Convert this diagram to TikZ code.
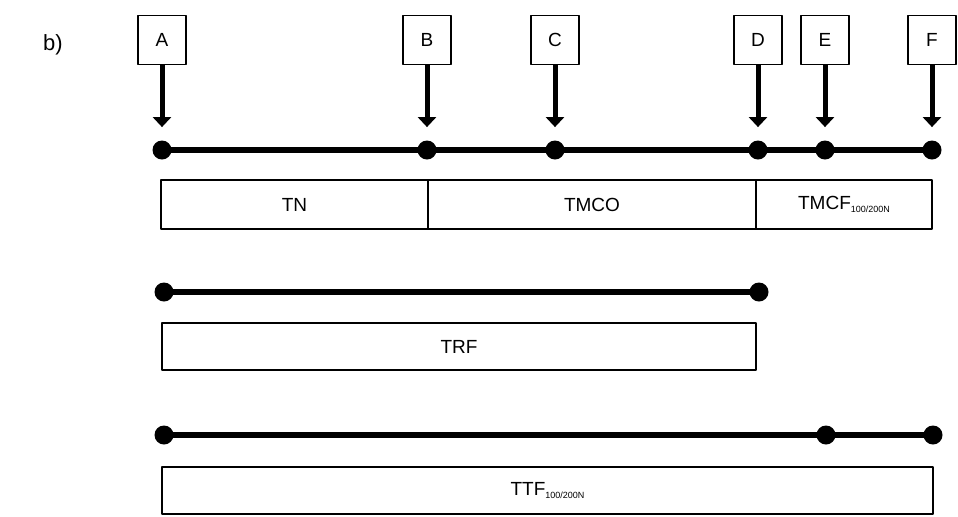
\documentclass[tikz,border=0pt]{standalone}
\usepackage{fontspec}
\setmainfont{Liberation Sans}
\usetikzlibrary{arrows.meta,positioning}
\newcommand{\lowtag}[1]{\raisebox{-1.2pt}{\fontsize{4.5}{5}\selectfont #1}}
\tikzset{
  markbox/.style={draw, line width=0.9pt, minimum width=24pt, minimum height=24.5pt, inner sep=0pt},
  dot/.style={circle, fill, inner sep=0pt, minimum size=9.5pt},
  track/.style={line width=2.6pt},
  push/.style={line width=2.5pt, -{Triangle[width=9pt,length=5pt]}, shorten >=6.5pt},
  segbox/.style={draw, line width=1.1pt, minimum height=24.5pt, inner sep=0pt}
}
\begin{document}
\begin{tikzpicture}[x=0.5pt, y=-0.5pt, font=\fontsize{9.5}{11}\selectfont, line join=round]
  \useasboundingbox (0,0) rectangle (958,516);
  \def\ya{150} \def\yb{292} \def\yc{435} % rows
  \node[font=\fontsize{11}{13}\selectfont] (tag) at (53,45) {b)};
  % test points
  \foreach \n/\N/\x in {a/A/162,b/B/427,c/C/555,d/D/758,e/E/825,f/F/932}{
    \node[markbox] (\n) at (\x,40) {\N};
    \node[dot] (p\n) at (\x,\ya) {};
    \draw[push] (\n) -- (p\n);
  }
  \draw[track] (pa.center)--(pb.center)--(pc.center)--(pd.center)--(pe.center)--(pf.center);
  \node[segbox, minimum width=133.5pt] (tn) at (294.5,204.5) {TN};
  \node[segbox, minimum width=164pt] (tmco) at (592,204.5) {TMCO};
  \node[segbox, minimum width=88pt] (tmcf) at (844,204.5) {TMCF\lowtag{100/200N}};
  % second row
  \node[dot] (ra) at (164,\yb) {};
  \node[dot] (rd) at (759,\yb) {};
  \draw[track] (ra.center)--(rd.center);
  \node[segbox, minimum width=297pt, minimum height=23.5pt] (trf) at (459,346.5) {TRF};
  % third row
  \node[dot] (sa) at (164,\yc) {};
  \node[dot] (se) at (826,\yc) {};
  \node[dot] (sf) at (933,\yc) {};
  \draw[track] (sa.center)--(se.center)--(sf.center);
  \node[segbox, minimum width=385.5pt, minimum height=23.5pt] (ttf) at (547.5,490.5) {TTF\lowtag{100/200N}};
\end{tikzpicture}
\end{document}
